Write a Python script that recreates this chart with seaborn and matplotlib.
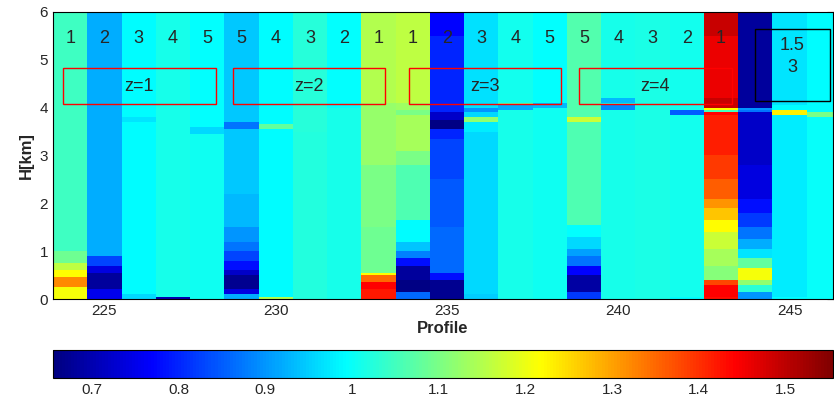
import numpy as np
import pandas as pd
import seaborn as sns
import matplotlib.pyplot as plt
from matplotlib.patches import Rectangle
from matplotlib.colors import LinearSegmentedColormap

# profile numbers (one column each) and the group label written above each one
profiles = list(range(224, 247))
group_labels = ["1", "2", "3", "4", "5", "5", "4", "3", "2", "1",
                "1", "2", "3", "4", "5", "5", "4", "3", "2", "1"]

# zone boxes: left profile edge and label
zone_names = ["z=1", "z=2", "z=3", "z=4"]
zone_left = [223.8, 228.75, 233.88, 238.86]

# each column: list of (top of layer in km, value) from the ground up
col_224 = [(0.25, 1.21), (0.45, 1.32), (0.6, 1.22), (0.75, 1.16), (1.0, 1.09), (6.0, 1.048)]
col_225 = [(0.2, 0.75), (0.55, 0.68), (0.7, 0.74), (0.9, 0.83), (6.0, 0.92)]
col_226 = [(0.1, 0.96), (3.7, 0.99), (3.8, 0.97), (6.0, 0.99)]
col_227 = [(0.05, 0.70), (6.0, 1.012)]
col_228 = [(3.45, 1.005), (3.6, 0.96), (6.0, 0.995)]
col_229 = [(0.1, 0.92), (0.2, 0.74), (0.5, 0.67), (0.6, 0.72), (0.8, 0.78), (1.0, 0.83),
           (1.2, 0.87), (1.5, 0.9), (2.2, 0.93), (3.55, 0.945), (3.7, 0.87), (6.0, 0.945)]
col_230 = [(0.05, 1.15), (3.55, 0.99), (3.65, 1.08), (6.0, 0.99)]
col_231 = [(3.5, 1.022), (6.0, 1.025)]
col_232 = [(4.0, 1.012), (6.0, 0.995)]
col_233 = [(0.2, 1.42), (0.37, 1.44), (0.5, 1.35), (0.56, 1.22), (1.5, 1.09),
           (2.8, 1.1), (4.1, 1.125), (6.0, 1.15)]
col_234 = [(0.15, 0.86), (0.42, 0.66), (0.68, 0.68), (0.84, 0.78), (1.0, 0.88), (1.2, 0.94),
           (1.67, 0.99), (2.8, 1.06), (3.1, 1.1), (3.85, 1.14), (3.95, 1.1), (4.1, 1.13), (6.0, 1.16)]
col_235 = [(0.4, 0.67), (0.55, 0.78), (1.5, 0.86), (2.5, 0.845), (3.35, 0.83), (3.55, 0.8),
           (3.75, 0.66), (3.9, 0.72), (5.5, 0.80), (6.0, 0.77)]
col_236 = [(0.1, 0.95), (3.5, 0.96), (3.68, 0.975), (3.78, 1.12), (3.9, 0.96), (4.0, 0.9), (6.0, 0.965)]
col_237 = [(3.95, 1.012), (4.05, 0.92), (4.12, 1.08), (6.0, 1.01)]
col_238 = [(4.0, 1.005), (4.12, 0.93), (6.0, 0.995)]
col_239 = [(0.15, 0.82), (0.5, 0.69), (0.7, 0.77), (0.9, 0.87), (1.05, 0.91), (1.3, 0.96),
           (1.53, 0.995), (3.7, 1.06), (3.8, 1.17), (6.0, 1.065)]
col_240 = [(3.95, 1.012), (4.05, 0.89), (4.1, 1.0), (4.2, 0.93), (6.0, 1.012)]
col_241 = [(6.0, 1.015)]
col_242 = [(0.05, 0.99), (3.85, 1.01), (3.95, 0.85), (6.0, 1.01)]
col_243 = [(0.05, 1.43), (0.3, 1.44), (0.4, 1.38), (0.7, 1.11), (1.05, 1.14), (1.4, 1.17),
           (1.67, 1.22), (1.88, 1.27), (2.1, 1.31), (2.5, 1.36), (3.0, 1.39), (3.85, 1.415),
           (3.9, 1.44), (3.95, 1.05), (4.0, 1.22), (4.2, 1.49), (5.5, 1.46), (6.0, 1.49)]
col_244 = [(0.14, 0.9), (0.28, 1.03), (0.42, 1.12), (0.63, 1.21), (0.84, 1.08), (1.05, 0.97),
           (1.23, 0.92), (1.5, 0.87), (1.8, 0.82), (2.1, 0.78), (2.8, 0.74), (3.9, 0.72),
           (3.95, 0.87), (4.0, 0.9), (6.0, 0.68)]
col_245 = [(0.05, 0.99), (3.85, 0.975), (3.95, 1.23), (4.05, 0.99), (6.0, 0.97)]
col_246 = [(3.8, 0.998), (3.9, 1.1), (6.0, 0.99)]

columns = [col_224, col_225, col_226, col_227, col_228, col_229, col_230, col_231,
           col_232, col_233, col_234, col_235, col_236, col_237, col_238, col_239,
           col_240, col_241, col_242, col_243, col_244, col_245, col_246]

dh = 0.05
heights = np.arange(dh / 2, 6, dh)
x0 = 223.5  # left edge of the first column


def layer_value(layers, h):
    for top, val in layers:
        if h < top:
            return val
    return layers[-1][1]


grid = pd.DataFrame(
    {p: [layer_value(c, h) for h in heights] for p, c in zip(profiles, columns)},
    index=np.round(heights, 3),
)

# MATLAB style jet (slightly different from matplotlib's)
matlab_jet = LinearSegmentedColormap("matlab_jet", {
    "red": [(0, 0, 0), (0.375, 0, 0), (0.625, 1, 1), (0.875, 1, 1), (1, 0.5, 0.5)],
    "green": [(0, 0, 0), (0.125, 0, 0), (0.375, 1, 1), (0.625, 1, 1), (0.875, 0, 0), (1, 0, 0)],
    "blue": [(0, 0.5, 0.5), (0.125, 1, 1), (0.375, 1, 1), (0.625, 0, 0), (1, 0, 0)],
})

sns.set_style("white")
plt.rcParams["font.family"] = ["Liberation Sans", "DejaVu Sans"]

fig = plt.figure(figsize=(8.34, 4.05), dpi=100)
ax = fig.add_axes([0.0636, 0.2617, 0.9353, 0.7087])
cax = fig.add_axes([0.0636, 0.0667, 0.9353, 0.069])

sns.heatmap(
    grid, ax=ax, cmap=matlab_jet, vmin=0.655, vmax=1.555,
    cbar_ax=cax, cbar_kws={"orientation": "horizontal"},
    xticklabels=False, yticklabels=False,
)

# heatmap coordinates -> profile / km
ax.set_xlim(0, 246.27 - x0)
ax.set_ylim(0, len(heights))
xt = [225, 230, 235, 240, 245]
ax.set_xticks([p - x0 for p in xt])
ax.set_xticklabels([str(p) for p in xt], fontsize=11)
ax.set_yticks([h / dh for h in range(7)])
ax.set_yticklabels([str(h) for h in range(7)], fontsize=11, rotation=0)
ax.tick_params(direction="in", top=True, right=True, length=4, width=0.8, color="black")
for s in ax.spines.values():
    s.set_visible(True)
    s.set_color("black")
    s.set_linewidth(0.8)
ax.set_xlabel("Profile", fontsize=12, fontweight="bold", labelpad=2)
ax.set_ylabel("H[km]", fontsize=12, fontweight="bold", labelpad=4)

for p, lab in zip(profiles, group_labels):
    ax.text(p - x0, 5.45 / dh, lab, ha="center", va="center", fontsize=13)

for name, left in zip(zone_names, zone_left):
    ax.add_patch(Rectangle((left - x0, 4.08 / dh), 4.45, 0.74 / dh,
                           fill=False, edgecolor="red", linewidth=1))
    ax.text(left + 2.22 - x0, 4.45 / dh, name, ha="center", va="center", fontsize=13)

ax.add_patch(Rectangle((243.99 - x0, 4.14 / dh), 2.2, 1.5 / dh,
                       fill=False, edgecolor="black", linewidth=1))
ax.text(245.07 - x0, 5.3 / dh, "1.5", ha="center", va="center", fontsize=13)
ax.text(245.07 - x0, 4.85 / dh, "3", ha="center", va="center", fontsize=13)

cbar = ax.collections[0].colorbar
cbar.outline.set_linewidth(0.8)
cbar.outline.set_edgecolor("black")
cticks = [0.7, 0.8, 0.9, 1.0, 1.1, 1.2, 1.3, 1.4, 1.5]
cbar.set_ticks(cticks)
cbar.set_ticklabels([f"{t:g}" for t in cticks])
cax.tick_params(direction="in", top=True, bottom=True, length=4, width=0.8,
                color="black", labelsize=11)

fig.savefig("out.png", dpi=100)
